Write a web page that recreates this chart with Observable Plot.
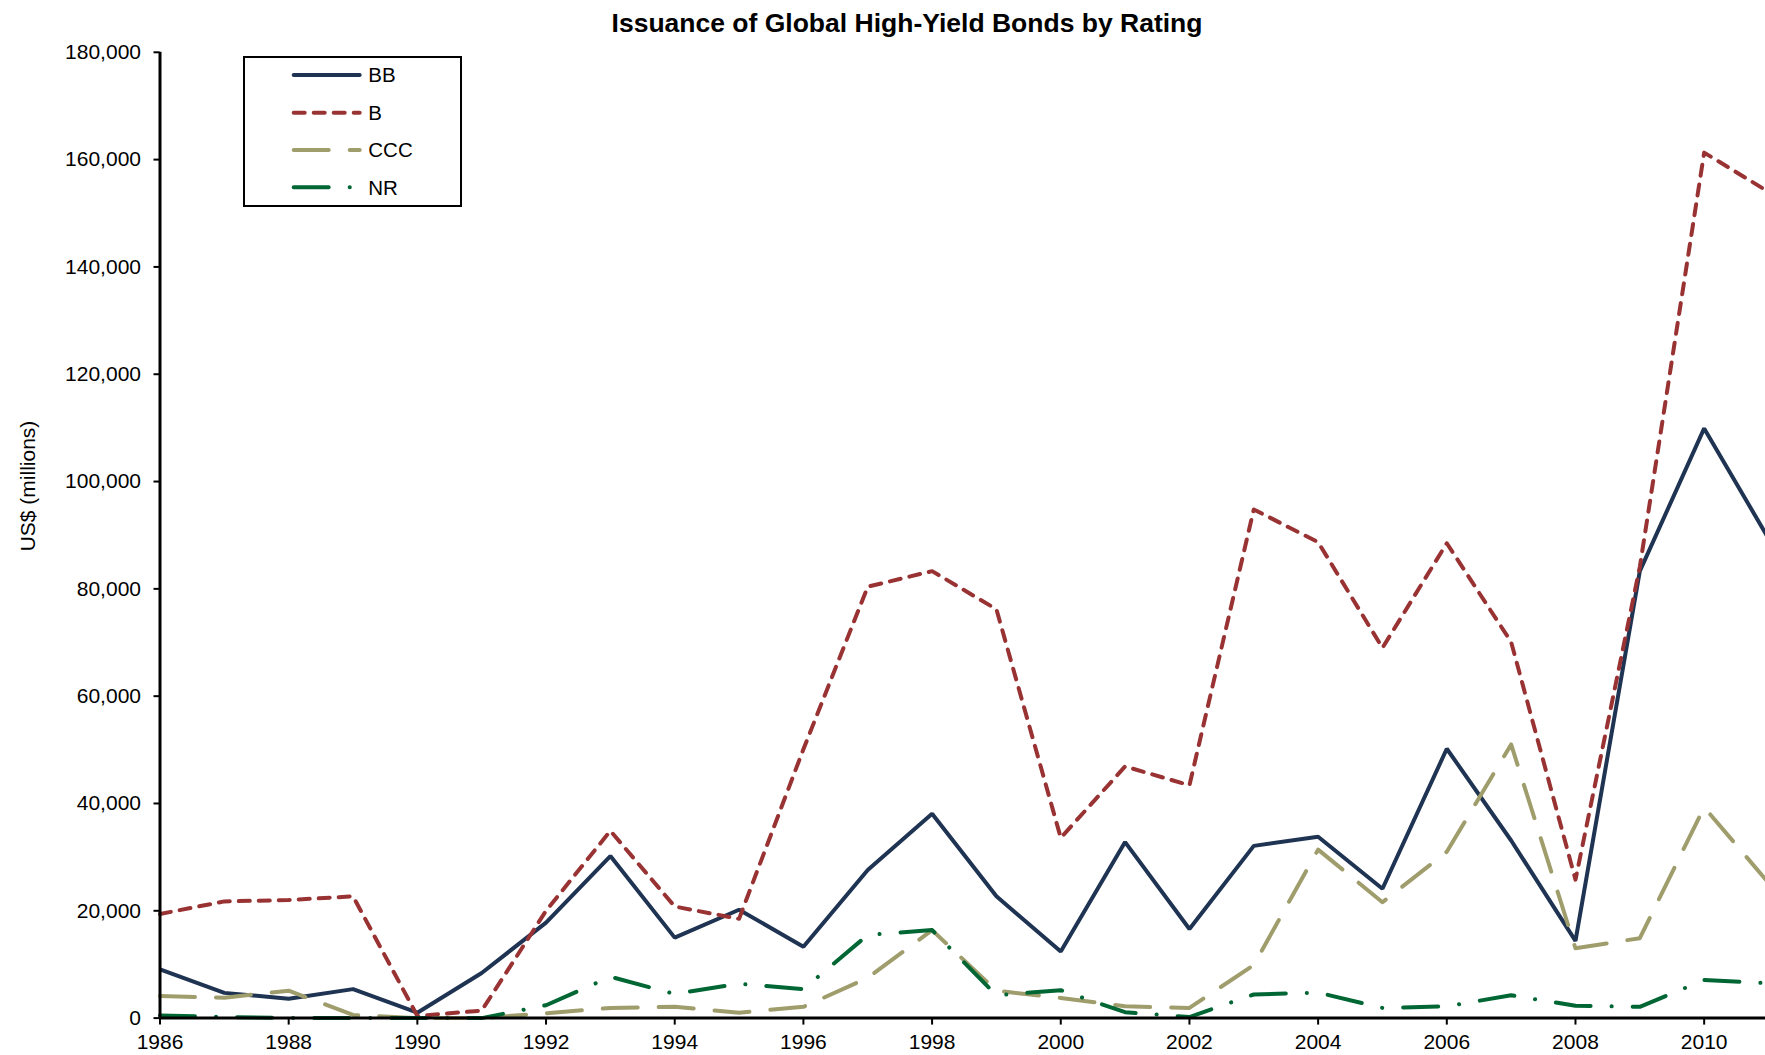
<!DOCTYPE html>
<html><head><meta charset="utf-8">
<script src="https://cdn.jsdelivr.net/npm/d3@7"></script>
<script src="https://cdn.jsdelivr.net/npm/@observablehq/plot@0.6"></script>
<style>
html,body{margin:0;padding:0;background:#fff;overflow:hidden;}
body{width:1765px;height:1055px;position:relative;font-family:"Liberation Sans",Arial,sans-serif;}
#title{height:44px;box-sizing:border-box;padding-left:49px;padding-top:3px;text-align:center;font-weight:bold;font-size:26.5px;line-height:41px;color:#000;white-space:nowrap;}
#legend{position:absolute;left:243px;top:56px;width:219px;height:151px;box-sizing:border-box;border:2px solid #000;background:#fff;}
#ylabel{position:absolute;left:27px;top:486px;transform:translate(-50%,-50%) rotate(-90deg);font-size:21px;line-height:21px;white-space:nowrap;color:#000;}
#chart svg{max-width:none !important;}
</style></head><body>
<div id="title">Issuance of Global High-Yield Bonds by Rating</div>
<div id="chart"></div>
<div id="ylabel">US$ (millions)</div>
<div id="legend"></div>
<script>
const years = [1986,1987,1988,1989,1990,1991,1992,1993,1994,1995,1996,1997,1998,1999,2000,2001,2002,2003,2004,2005,2006,2007,2008,2009,2010,2011];
const BB  = [9100,4700,3600,5400,1000,8400,17800,30200,15000,20200,13300,27600,38100,22700,12400,32800,16600,32100,33800,24100,50200,33100,14400,83300,109900,89400];
const B   = [19400,21750,22000,22700,400,1400,20000,34900,20800,18500,50100,80400,83300,76200,33600,46900,43400,94800,88700,69000,88500,70100,25800,84100,161300,154000];
const CCC = [4100,3800,5100,600,0,0,900,1900,2100,1000,2100,7500,16400,5100,3750,2200,1900,9900,31400,21600,31000,51000,13000,14900,39300,25200];
const NR  = [500,200,0,0,0,0,2400,7700,4500,6400,5400,15500,16400,4250,5200,1100,200,4400,4750,1900,2200,4250,2300,2100,7100,6500];
const yTicks = [0,20000,40000,60000,80000,100000,120000,140000,160000,180000];
const xTicks = [1986,1988,1990,1992,1994,1996,1998,2000,2002,2004,2006,2008,2010];

const series = [
  {name: "BB",  values: BB,  color: "#1f3352", dash: null},
  {name: "B",   values: B,   color: "#993333", dash: "11,9"},
  {name: "CCC", values: CCC, color: "#9f9d6c", dash: "35,21"},
  {name: "NR",  values: NR,  color: "#006633", dash: "35,21,0.1,21"}
];

const lineMarks = series.map(s => Plot.line(
  years.map((yr, i) => ({year: yr, value: s.values[i]})),
  {x: "year", y: "value", stroke: s.color, strokeWidth: 4,
   strokeDasharray: s.dash ?? undefined,
   strokeLinecap: s.dash ? "round" : "butt",
   strokeLinejoin: s.dash ? "round" : "miter"}
));

const chart = Plot.plot({
  width: 1768,
  height: 1011,
  marginLeft: 159.5,
  marginRight: 0,
  marginTop: 7.8,
  marginBottom: 37.4,
  style: {fontFamily: "'Liberation Sans', Arial, sans-serif", color: "#000", background: "#fff", overflow: "visible"},
  x: {domain: [1986, 2011]},
  y: {domain: [0, 180000]},
  marks: [
    ...lineMarks,
    Plot.axisY({ticks: yTicks, tickSize: 6, tickPadding: 13, fontSize: 21, strokeWidth: 2, label: null}),
    Plot.axisX({ticks: xTicks, tickFormat: "d", tickSize: 7, tickPadding: 9, fontSize: 21, strokeWidth: 2, label: null}),
    Plot.ruleX([1986], {strokeWidth: 3, stroke: "#000"}),
    Plot.ruleY([0], {strokeWidth: 3, stroke: "#000"})
  ]
});
chart.style.maxWidth = "none";
document.getElementById("chart").appendChild(chart);

// Legend
const lg = d3.select("#legend").append("svg")
  .attr("width", 215).attr("height", 147)
  .style("position", "absolute").style("left", "0px").style("top", "0px");
const rowY = [17, 54.7, 92, 129.3];
series.forEach((s, i) => {
  const ln = lg.append("line")
    .attr("x1", 48.7).attr("x2", 114.7)
    .attr("y1", rowY[i]).attr("y2", rowY[i])
    .attr("stroke", s.color).attr("stroke-width", 4)
    .attr("stroke-linecap", "round");
  if (s.dash) ln.attr("stroke-dasharray", s.dash);
  lg.append("text")
    .attr("x", 123.3).attr("y", rowY[i] + 7.3)
    .attr("font-size", 20.5)
    .attr("font-family", "'Liberation Sans', Arial, sans-serif")
    .attr("fill", "#000")
    .text(s.name);
});
</script>
</body></html>
